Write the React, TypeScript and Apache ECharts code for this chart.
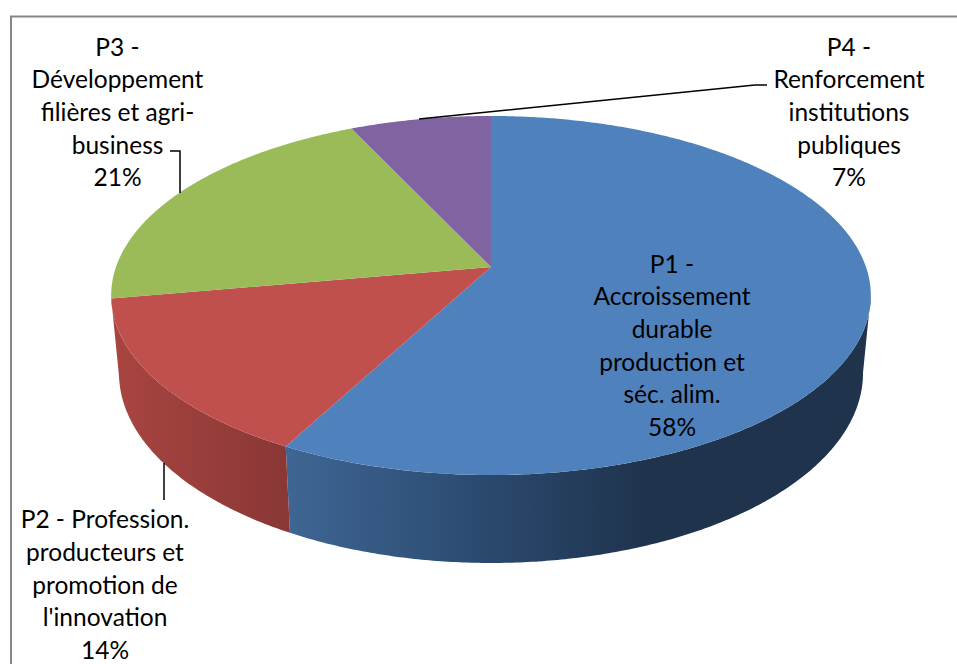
import React, { useEffect, useRef } from "react";
import * as echarts from "echarts";

const sliceNames = [
  "P1 -\nAccroissement\ndurable\nproduction et\nséc. alim.",
  "P2 - Profession.\nproducteurs et\npromotion de\nl'innovation",
  "P3 -\nDéveloppement\nfilières et agri-\nbusiness",
  "P4 -\nRenforcement\ninstitutions\npubliques",
];
const sliceValues = [57.8, 14.4, 20.8, 7.0];
const sliceColors = ["#4f81bd", "#c0504d", "#9bbb59", "#8064a2"];

const labelAnchors = [
  [672, 247],
  [105, 502.5],
  [117.5, 30],
  [849, 30],
];

const FONT = "Lato, Carlito, Calibri, sans-serif";
const total = sliceValues.reduce((a, b) => a + b, 0);
const PERSPECTIVE = 0.1588;
const topRim = { cx: 491, cy: 267, a: 175, b: 375 };
const lowRim = { cx: 491, cy: 342.8, a: 185.2, b: 367.3 };
const FRONT_START = 99;
const FRONT_END = 260;

function project(rim: typeof topRim, deg: number): number[] {
  const t = (deg * Math.PI) / 180;
  const x = Math.sin(t);
  const y = Math.cos(t);
  const d = 1 + PERSPECTIVE * y;
  return [rim.cx + (rim.b * x) / d, rim.cy - (rim.a * y) / d];
}

function sliceRange(index: number): number[] {
  let acc = 0;
  for (let i = 0; i < index; i++) acc += sliceValues[i];
  return [(acc / total) * 360, ((acc + sliceValues[index]) / total) * 360];
}

function arcPoints(rim: typeof topRim, from: number, to: number): number[][] {
  const pts: number[][] = [];
  const n = Math.max(2, Math.ceil(Math.abs(to - from) * 2));
  for (let i = 0; i <= n; i++) pts.push(project(rim, from + ((to - from) * i) / n));
  return pts;
}

function sideFill(index: number) {
  if (index === 0) {
    return new echarts.graphic.LinearGradient(
      286, 0, 871, 0,
      [
        { offset: 0, color: "#3f6694" },
        { offset: 0.33, color: "#2b4a70" },
        { offset: 0.62, color: "#1f334c" },
        { offset: 1, color: "#1f334c" },
      ],
      true
    );
  }
  return new echarts.graphic.LinearGradient(
    112, 0, 290, 0,
    [
      { offset: 0, color: "#a94541" },
      { offset: 1, color: "#893735" },
    ],
    true
  );
}

export default function App() {
  const ref = useRef<HTMLDivElement>(null);
  useEffect(() => {
    document.body.style.margin = "0";
    const chart = echarts.init(ref.current!, undefined, { renderer: "svg" });
    const data = sliceValues.map((v, i) => ({ value: [v], name: sliceNames[i] }));
    chart.setOption({
      animation: false,
      backgroundColor: "#ffffff",
      tooltip: { show: false },
      graphic: [
        {
          type: "polyline",
          z: 1,
          silent: true,
          shape: { points: [[11, 664], [11, 16.5], [957, 16.5]] },
          style: { stroke: "#868686", lineWidth: 2, fill: "none" },
        },
        {
          type: "polyline",
          z: 100,
          silent: true,
          shape: { points: [[170, 151], [180, 151], [180, 193]] },
          style: { stroke: "#000000", lineWidth: 1.5, fill: "none" },
        },
        {
          type: "polyline",
          z: 100,
          silent: true,
          shape: { points: [[767, 85], [755, 85], [419, 119]] },
          style: { stroke: "#000000", lineWidth: 1.5, fill: "none" },
        },
        {
          type: "polyline",
          z: 100,
          silent: true,
          shape: { points: [[164, 463], [164, 500]] },
          style: { stroke: "#000000", lineWidth: 1.5, fill: "none" },
        },
      ],
      series: [
        {
          type: "custom",
          coordinateSystem: "none",
          silent: true,
          z: 2,
          data,
          renderItem: (params: any) => {
            const i = params.dataIndex;
            const [s, e] = sliceRange(i);
            const from = Math.max(s, FRONT_START);
            const to = Math.min(e, FRONT_END);
            if (to <= from) return { type: "group", children: [] };
            const points = [...arcPoints(topRim, from, to), ...arcPoints(lowRim, to, from)];
            return { type: "polygon", shape: { points }, style: { fill: sideFill(i) } };
          },
        },
        {
          type: "custom",
          coordinateSystem: "none",
          silent: true,
          z: 3,
          data,
          renderItem: (params: any) => {
            const i = params.dataIndex;
            const [s, e] = sliceRange(i);
            const points = [[topRim.cx, topRim.cy], ...arcPoints(topRim, s, e)];
            return { type: "polygon", shape: { points }, style: { fill: sliceColors[i] } };
          },
        },
        {
          type: "custom",
          coordinateSystem: "none",
          silent: true,
          z: 101,
          data,
          renderItem: (params: any, api: any) => {
            const i = params.dataIndex;
            const [x, y] = labelAnchors[i];
            const pct = Math.round((api.value(0) / total) * 100);
            return {
              type: "text",
              x,
              y,
              style: {
                text: `${sliceNames[i]}\n${pct}%`,
                fill: "#000000",
                fontFamily: FONT,
                fontSize: 24.5,
                lineHeight: 32.6,
                align: "center",
                verticalAlign: "top",
              },
            };
          },
        },
      ],
    });
    return () => chart.dispose();
  }, []);
  return <div ref={ref} style={{ width: 957, height: 664 }} />;
}
